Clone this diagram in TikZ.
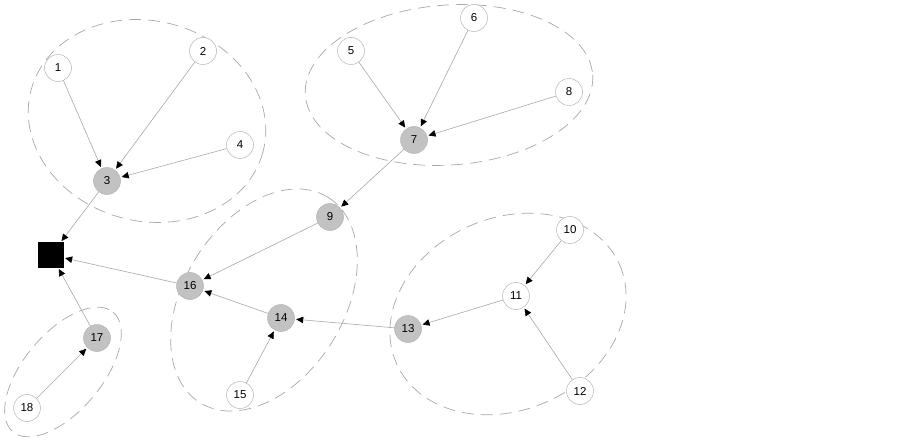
\documentclass[tikz,border=0pt]{standalone}
\usepackage{fontspec}
\setmainfont{Liberation Sans}
\usetikzlibrary{arrows.meta}
\definecolor{edgegray}{HTML}{A8A8A8}
\definecolor{bordergray}{HTML}{B4B4B4}
\definecolor{fillgray}{HTML}{C2C2C2}
\definecolor{grpgray}{HTML}{A8A8A8}
\begin{document}
\begin{tikzpicture}[x=1pt,y=-1pt,
  vnode/.style={circle,draw=bordergray,line width=0.5pt,fill=white,minimum size=27pt,inner sep=0pt,font=\fontsize{11.5}{13}\selectfont},
  hnode/.style={vnode,fill=fillgray},
  sink/.style={rectangle,fill=black,draw=black,minimum size=25pt,inner sep=0pt},
  link/.style={draw=edgegray,line width=0.6pt,shorten >=1.5pt,-{Triangle[length=7pt,width=6.5pt,black]}},
  grp/.style={draw=grpgray,line width=0.7pt,dash pattern=on 12pt off 7pt}]
\useasboundingbox (0,0) rectangle (900,441);
% groups
\draw[grp,rotate around={-15:(147,121)}] (147,121) ellipse (120 and 100);
\draw[grp,rotate around={4:(449,85)}] (449,85) ellipse (144 and 80);
\draw[grp,rotate around={58:(264,300)}] (264,300) ellipse (121 and 80);
\draw[grp,rotate around={24:(508,314)}] (508,314) ellipse (122 and 96);
\draw[grp,rotate around={50:(63,372)}] (63,372) ellipse (78 and 39);
% nodes
\node[sink] (s) at (51,255) {};
\node[vnode] (n1) at (58,68) {1};
\node[vnode] (n2) at (203,51) {2};
\node[hnode] (n3) at (107,181) {3};
\node[vnode] (n4) at (240,145) {4};
\node[vnode] (n5) at (351,51) {5};
\node[vnode] (n6) at (474,18) {6};
\node[hnode] (n7) at (414,140) {7};
\node[vnode] (n8) at (569,92) {8};
\node[hnode] (n9) at (330,217) {9};
\node[vnode] (n10) at (570,230) {10};
\node[vnode] (n11) at (516,296) {11};
\node[vnode] (n12) at (580,391) {12};
\node[hnode] (n13) at (408,329) {13};
\node[hnode] (n14) at (281,318) {14};
\node[vnode] (n15) at (240,395) {15};
\node[hnode] (n16) at (190,286) {16};
\node[hnode] (n17) at (97,338) {17};
\node[vnode] (n18) at (27,408) {18};
% edges
\draw[link] (n1) -- (n3);
\draw[link] (n2) -- (n3);
\draw[link] (n4) -- (n3);
\draw[link] (n3) -- (s);
\draw[link] (n5) -- (n7);
\draw[link] (n6) -- (n7);
\draw[link] (n8) -- (n7);
\draw[link] (n7) -- (n9);
\draw[link] (n9) -- (n16);
\draw[link] (n14) -- (n16);
\draw[link] (n16) -- (s);
\draw[link] (n15) -- (n14);
\draw[link] (n13) -- (n14);
\draw[link] (n11) -- (n13);
\draw[link] (n10) -- (n11);
\draw[link] (n12) -- (n11);
\draw[link] (n17) -- (s);
\draw[link] (n18) -- (n17);
\end{tikzpicture}
\end{document}
